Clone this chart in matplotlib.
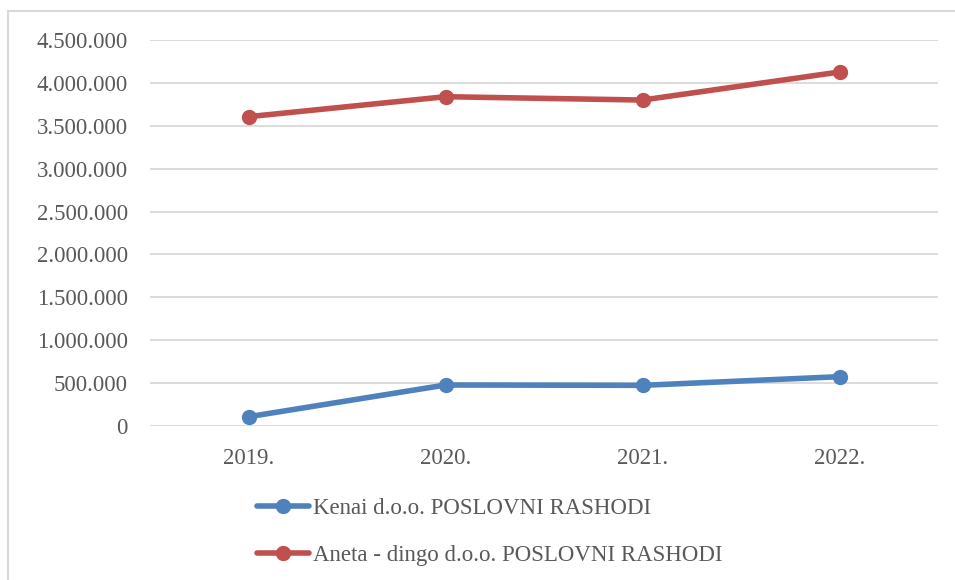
import matplotlib
matplotlib.use("Agg")
import matplotlib.pyplot as plt
from matplotlib.lines import Line2D
from matplotlib.patches import Rectangle

years = ["2019.", "2020.", "2021.", "2022."]
kenai = [108000, 478000, 474000, 575000]
aneta = [3606000, 3839000, 3800000, 4127000]
yticks = [0, 500000, 1000000, 1500000, 2000000, 2500000, 3000000, 3500000, 4000000, 4500000]
ytick_labels = ["0", "500.000", "1.000.000", "1.500.000", "2.000.000", "2.500.000",
                "3.000.000", "3.500.000", "4.000.000", "4.500.000"]
series_names = ["Kenai d.o.o. POSLOVNI RASHODI", "Aneta - dingo d.o.o. POSLOVNI RASHODI"]

blue = "#4f81bd"
red = "#c0504d"
txt = "#595959"
grid = "#d9d9d9"
font = "Liberation Serif"
fs = 16.5

fig = plt.figure(figsize=(9.55, 5.8), dpi=100)
W, H = 955, 580
ax = fig.add_axes([150 / W, 1 - 426 / H, 788 / W, 386 / H])

x = [i + 0.5 for i in range(len(years))]
ax.plot(x, kenai, color=blue, lw=4, marker="o", ms=10, solid_capstyle="round", zorder=3)
ax.plot(x, aneta, color=red, lw=4, marker="o", ms=10, solid_capstyle="round", zorder=3)

ax.set_xlim(0, 4)
ax.set_ylim(0, 4500000)
ax.set_yticks(yticks)
ax.set_yticklabels(ytick_labels, fontfamily=font, fontsize=fs, color=txt)
ax.set_xticks(x)
ax.set_xticklabels(years, fontfamily=font, fontsize=fs, color=txt)
ax.tick_params(axis="both", length=0)
ax.tick_params(axis="y", pad=16)
ax.tick_params(axis="x", pad=16)
ax.grid(axis="y", color=grid, lw=1.3)
ax.set_axisbelow(True)
for s in ax.spines.values():
    s.set_visible(False)

handles = [Line2D([0], [0], color=blue, lw=4, marker="o", ms=10, solid_capstyle="round"),
           Line2D([0], [0], color=red, lw=4, marker="o", ms=10, solid_capstyle="round")]
leg = fig.legend(handles, series_names, loc="center left",
                 bbox_to_anchor=(236 / W, 1 - 532 / H), frameon=False,
                 prop={"family": font, "size": fs}, labelcolor=txt,
                 handlelength=2.3, handletextpad=0.15, labelspacing=1.1)

fig.patches.append(Rectangle((7.5 / W, -0.01), 1.02 - 7.5 / W, 1 - 11 / H + 0.01,
                             transform=fig.transFigure, fill=False,
                             edgecolor=grid, lw=1.5))

fig.savefig("out.png", dpi=100)
